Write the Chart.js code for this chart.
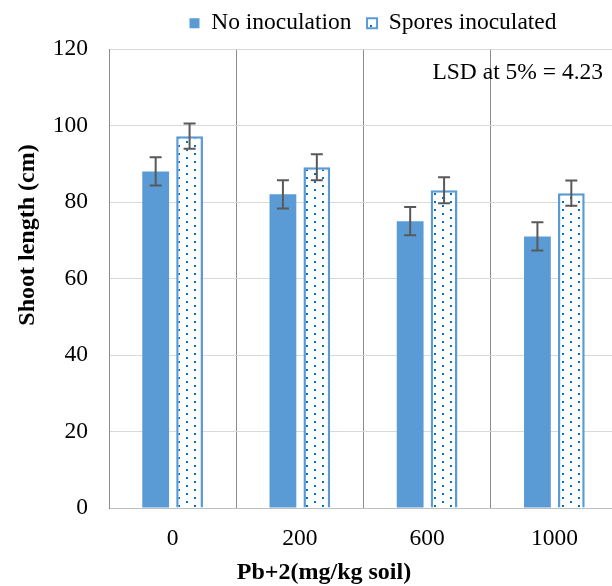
<!DOCTYPE html>
<html>
<head>
<meta charset="utf-8">
<script src="https://cdn.jsdelivr.net/npm/chart.js@4.4.1/dist/chart.umd.min.js"></script>
<style>
  html, body { margin: 0; padding: 0; background: #fff; overflow: hidden; }
  #wrap { width: 620px; height: 586px; }
</style>
</head>
<body>
<div id="wrap"><canvas id="chart" width="620" height="586"></canvas></div>
<script>
// ---- data -------------------------------------------------------------------
const categories   = ['0', '200', '600', '1000'];
const noInoc       = [88, 82, 75, 71];
const noInocErr    = [3.7, 3.7, 3.7, 3.7];
const sporesInoc   = [97.2, 89.1, 83.1, 82.3];
const sporesErr    = [3.3, 3.4, 3.4, 3.3];
const yTicks       = [0, 20, 40, 60, 80, 100, 120];
const seriesNames  = ['No inoculation', 'Spores inoculated'];
const lsdNote      = 'LSD at 5% = 4.23';
const xTitle       = 'Pb+2(mg/kg soil)';
const yTitle       = 'Shoot length (cm)';

const BLUE  = '#5B9BD5';
const DOT   = '#0070C0';
const SERIF = '"Liberation Serif", "Times New Roman", serif';
const FS    = 23.5;

// staggered dot fill for the inoculated series
function dotPattern() {
  const c = document.createElement('canvas');
  c.width = 16; c.height = 8;
  const g = c.getContext('2d');
  g.fillStyle = '#fff';
  g.fillRect(0, 0, 16, 8);
  g.fillStyle = DOT;
  g.fillRect(2, 1, 2, 2);
  g.fillRect(10, 5, 2, 2);
  return g.createPattern(c, 'repeat');
}

const ctx = document.getElementById('chart').getContext('2d');
const pattern = dotPattern();

// error bars + free text
const extrasPlugin = {
  id: 'extras',
  afterLayout(chart) {
    // legend sits a bit right of centre and tight to the top in the original
    chart.legend.left += 64;
    chart.legend.right += 64;
    chart.legend.top -= 4;
    chart.legend.bottom -= 4;
  },
  afterDatasetsDraw(chart) {
    const y = chart.scales.y;
    const errs = [noInocErr, sporesErr];
    const c = chart.ctx;
    c.save();
    c.strokeStyle = '#595959';
    c.lineWidth = 2;
    chart.data.datasets.forEach((ds, di) => {
      chart.getDatasetMeta(di).data.forEach((bar, i) => {
        const v = ds.data[i], e = errs[di][i];
        const top = y.getPixelForValue(v + e), bot = y.getPixelForValue(v - e);
        c.beginPath();
        c.moveTo(bar.x, top); c.lineTo(bar.x, bot);
        c.moveTo(bar.x - 6, top); c.lineTo(bar.x + 6, top);
        c.moveTo(bar.x - 6, bot); c.lineTo(bar.x + 6, bot);
        c.stroke();
      });
    });
    c.restore();
  },
  afterDraw(chart) {
    const c = chart.ctx;
    const a = chart.chartArea;
    c.save();
    c.fillStyle = '#000';
    c.font = FS + 'px ' + SERIF;
    c.textAlign = 'right';
    c.textBaseline = 'middle';
    c.fillText(lsdNote, a.right - 15, 73);
    c.font = 'bold 24px ' + SERIF;
    c.textAlign = 'center';
    c.fillText(xTitle, 324, 573);
    c.translate(28, 235);
    c.rotate(-Math.PI / 2);
    c.fillText(yTitle, 0, 0);
    c.restore();
  },
};

new Chart(ctx, {
  type: 'bar',
  data: {
    labels: categories,
    datasets: [
      {
        label: seriesNames[0],
        data: noInoc,
        backgroundColor: BLUE,
        borderWidth: 0,
      },
      {
        label: seriesNames[1],
        data: sporesInoc,
        backgroundColor: pattern,
        borderColor: BLUE,
        borderWidth: 2.5,
      },
    ],
  },
  plugins: [extrasPlugin],
  options: {
    responsive: false,
    animation: false,
    categoryPercentage: 0.533,
    barPercentage: 0.79,
    layout: { padding: { left: 0, right: 2, top: 0, bottom: 0 } },
    plugins: {
      tooltip: { enabled: false },
      legend: {
        position: 'top',
        labels: {
          boxWidth: 10,
          boxHeight: 10,
          padding: 15.5,
          color: '#000',
          font: { size: FS, family: SERIF },
          generateLabels(chart) {
            return chart.data.datasets.map((ds, i) => ({
              text: ds.label,
              fillStyle: ds.backgroundColor,
              strokeStyle: i === 1 ? BLUE : 'rgba(0,0,0,0)',
              lineWidth: i === 1 ? 2 : 0,
              hidden: false,
              datasetIndex: i,
            }));
          },
        },
      },
    },
    scales: {
      x: {
        grid: { offset: true, color: '#8c8c8c', drawTicks: false },
        border: { color: '#bfbfbf' },
        ticks: { color: '#000', padding: 17, font: { size: FS, family: SERIF } },
        afterFit(s) { s.height = 78; },
      },
      y: {
        min: 0, max: 120,
        afterBuildTicks(s) { s.ticks = yTicks.map(v => ({ value: v })); },
        grid: { color: '#d9d9d9', drawTicks: false },
        border: { color: '#8c8c8c' },
        ticks: { color: '#000', padding: 21, font: { size: FS, family: SERIF } },
        afterFit(s) { s.width = 109; },
      },
    },
  },
});
</script>
</body>
</html>
